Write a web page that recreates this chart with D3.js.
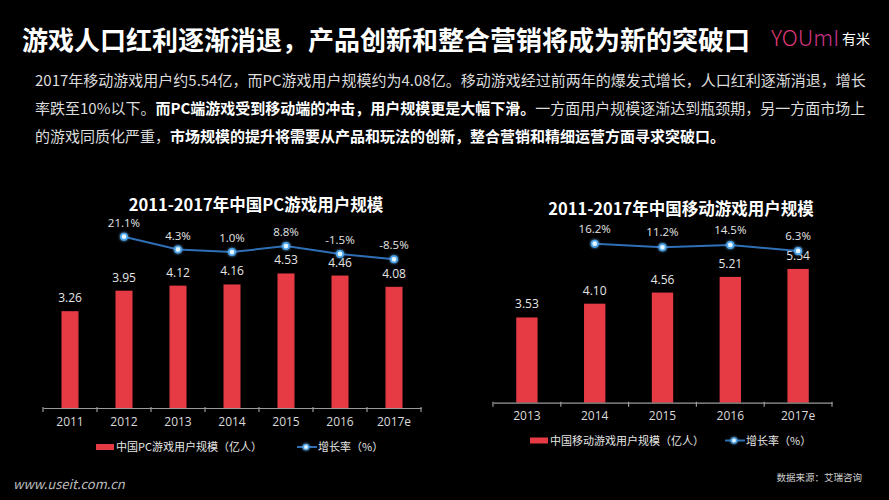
<!DOCTYPE html>
<html>
<head>
<meta charset="utf-8">
<script src="https://cdn.jsdelivr.net/npm/d3@7"></script>
<style>
  html, body { margin: 0; padding: 0; background: #000; }
  svg { display: block; }
  text { font-family: "Noto Sans CJK SC", "Noto Sans", sans-serif; }
  .num { font-family: "Open Sans", "Noto Sans", sans-serif; }
</style>
</head>
<body>
<svg id="chart" width="889" height="500"></svg>
<script>
// PC panel
var pcYears = ["2011", "2012", "2013", "2014", "2015", "2016", "2017e"];
var pcUsers = [3.26, 3.95, 4.12, 4.16, 4.53, 4.46, 4.08];
var pcGrowth = [null, 21.1, 4.3, 1.0, 8.8, -1.5, -8.5];

// mobile panel
var mobileYears = ["2013", "2014", "2015", "2016", "2017e"];
var mobileUsers = [3.53, 4.10, 4.56, 5.21, 5.54];
var mobileGrowth = [null, 16.2, 11.2, 14.5, 6.3];

var title = "游戏人口红利逐渐消退，产品创新和整合营销将成为新的突破口";
var paragraph = [
    [["2017年移动游戏用户约5.54亿，而PC游戏用户规模约为4.08亿。移动游戏经过前两年的爆发式增长，人口红利逐渐消退，增长", false]],
    [["率跌至10%以下。", false], ["而PC端游戏受到移动端的冲击，用户规模更是大幅下滑。", true], ["一方面用户规模逐渐达到瓶颈期，另一方面市场上", false]],
    [["的游戏同质化严重，", false], ["市场规模的提升将需要从产品和玩法的创新，整合营销和精细运营方面寻求突破口。", true]]
];

var barColor = "#e63a44",
    lineColor = "#2f6fb5",
    textColor = "#e6e6e6";

var svg = d3.select("#chart");

svg.append("rect").attr("width", 889).attr("height", 500).attr("fill", "#000");

var defs = svg.append("defs");
var glow = defs.append("filter").attr("id", "glow")
    .attr("x", "-100%").attr("y", "-100%").attr("width", "300%").attr("height", "300%");
glow.append("feGaussianBlur").attr("stdDeviation", 1.6).attr("result", "b");
var merge = glow.append("feMerge");
merge.append("feMergeNode").attr("in", "b");
merge.append("feMergeNode").attr("in", "SourceGraphic");

var logoGrad = defs.append("linearGradient").attr("id", "logoGrad");
logoGrad.append("stop").attr("offset", "0%").attr("stop-color", "#ef3b74");
logoGrad.append("stop").attr("offset", "100%").attr("stop-color", "#c0338f");

// header
svg.append("text")
    .attr("x", 22).attr("y", 50)
    .attr("font-size", 26).attr("font-weight", "bold")
    .attr("fill", "#fff")
    .text(title);

svg.append("text")
    .attr("x", 771).attr("y", 46)
    .attr("font-family", "Lato, sans-serif")
    .attr("font-weight", 300)
    .attr("font-size", 22)
    .attr("fill", "url(#logoGrad)")
    .text("YOUmI");
svg.append("text")
    .attr("x", 842).attr("y", 44)
    .attr("font-size", 14)
    .attr("fill", "#fff")
    .text("有米");

var para = svg.append("g");
paragraph.forEach(function (line, i) {
    var t = para.append("text")
        .attr("x", 35).attr("y", 86 + i * 28)
        .attr("font-size", 15)
        .attr("fill", "#dcdcdc");
    line.forEach(function (seg) {
        t.append("tspan")
            .attr("font-weight", seg[1] ? "bold" : "normal")
            .attr("fill", seg[1] ? "#fff" : "#dcdcdc")
            .text(seg[0]);
    });
});

function drawPanel(cfg) {
    var g = svg.append("g");

    var x = d3.scaleBand()
        .domain(cfg.years)
        .range([cfg.x0, cfg.x1])
        .paddingInner(0.685)
        .paddingOuter(0.3425);

    var y = d3.scaleLinear().domain([0, 6]).range([cfg.base, cfg.base - 6 * cfg.unit]);
    var yg = d3.scaleLinear().domain([-30, 30])
        .range([cfg.zero + 30 * cfg.slope, cfg.zero - 30 * cfg.slope]);

    g.append("text")
        .attr("x", cfg.titleX).attr("y", cfg.titleY)
        .attr("text-anchor", "middle")
        .attr("font-size", 16.5).attr("font-weight", "bold")
        .attr("fill", "#fff")
        .text(cfg.title);

    g.selectAll(".bar")
        .data(cfg.users)
        .enter().append("rect")
        .attr("x", function (d, i) { return x(cfg.years[i]); })
        .attr("y", function (d) { return y(d); })
        .attr("width", x.bandwidth())
        .attr("height", function (d) { return y(0) - y(d); })
        .attr("fill", barColor);

    g.selectAll(".barLabel")
        .data(cfg.users)
        .enter().append("text")
        .attr("class", "num")
        .attr("x", function (d, i) { return x(cfg.years[i]) + x.bandwidth() / 2; })
        .attr("y", function (d) { return y(d) - 9; })
        .attr("text-anchor", "middle")
        .attr("font-size", 12)
        .attr("fill", textColor)
        .text(function (d) { return d.toFixed(2); });

    // axis
    var axis = d3.axisBottom(x).tickSize(0).tickPadding(9);
    var ax = g.append("g")
        .attr("transform", "translate(0," + cfg.base + ")")
        .call(axis);
    ax.select(".domain").attr("stroke", "#9a9a9a").attr("stroke-width", 1.2);
    ax.selectAll("text")
        .attr("class", "num")
        .attr("font-size", 12)
        .attr("fill", "#dadada");

    var bounds = d3.range(cfg.years.length + 1).map(function (i) {
        return x.range()[0] + i * x.step();
    });
    g.selectAll(".tk")
        .data(bounds)
        .enter().append("line")
        .attr("x1", function (d) { return d; })
        .attr("x2", function (d) { return d; })
        .attr("y1", cfg.base - 1)
        .attr("y2", cfg.base + 4)
        .attr("stroke", "#9a9a9a")
        .attr("stroke-width", 1.2);

    // growth line
    var pts = cfg.growth.map(function (v, i) {
        return { year: cfg.years[i], v: v };
    }).filter(function (d) { return d.v !== null; });

    var line = d3.line()
        .x(function (d) { return x(d.year) + x.bandwidth() / 2; })
        .y(function (d) { return yg(d.v); });

    g.append("path")
        .datum(pts)
        .attr("d", line)
        .attr("fill", "none")
        .attr("stroke", lineColor)
        .attr("stroke-width", 2);

    g.selectAll(".dot")
        .data(pts)
        .enter().append("circle")
        .attr("cx", function (d) { return x(d.year) + x.bandwidth() / 2; })
        .attr("cy", function (d) { return yg(d.v); })
        .attr("r", 3.2)
        .attr("fill", "#e4f6ff")
        .attr("stroke", "#4aa3ea")
        .attr("stroke-width", 1.6)
        .attr("filter", "url(#glow)");

    g.selectAll(".gLabel")
        .data(pts)
        .enter().append("text")
        .attr("class", "num")
        .attr("x", function (d) { return x(d.year) + x.bandwidth() / 2; })
        .attr("y", function (d) { return yg(d.v) - cfg.labelGap; })
        .attr("text-anchor", "middle")
        .attr("font-size", 11.5)
        .attr("fill", textColor)
        .text(function (d) { return d.v.toFixed(1) + "%"; });

    // legend
    var lg = g.append("g").attr("transform", "translate(" + cfg.legendX + "," + cfg.legendY + ")");
    lg.append("rect").attr("x", 0).attr("y", -3).attr("width", 18).attr("height", 6).attr("fill", barColor);
    lg.append("text").attr("x", 20).attr("y", 4)
        .attr("font-size", 11).attr("fill", textColor)
        .text(cfg.legendBar);
    lg.append("line").attr("x1", cfg.legendGap).attr("x2", cfg.legendGap + 20)
        .attr("y1", 0).attr("y2", 0)
        .attr("stroke", lineColor).attr("stroke-width", 2);
    lg.append("circle").attr("cx", cfg.legendGap + 9).attr("cy", 0).attr("r", 2.6)
        .attr("fill", "#e4f6ff").attr("stroke", "#4aa3ea").attr("stroke-width", 1.4)
        .attr("filter", "url(#glow)");
    lg.append("text").attr("x", cfg.legendGap + 21).attr("y", 4)
        .attr("font-size", 11).attr("fill", textColor)
        .text("增长率（%）");
}

drawPanel({
    title: "2011-2017年中国PC游戏用户规模",
    titleX: 256, titleY: 211,
    years: pcYears, users: pcUsers, growth: pcGrowth,
    x0: 43, x1: 421, base: 408, unit: 29.7,
    zero: 252.8, slope: 0.764, labelGap: 10,
    legendX: 96, legendY: 447, legendGap: 201,
    legendBar: "中国PC游戏用户规模（亿人）"
});

drawPanel({
    title: "2011-2017年中国移动游戏用户规模",
    titleX: 681, titleY: 215,
    years: mobileYears, users: mobileUsers, growth: mobileGrowth,
    x0: 493, x1: 832, base: 402.7, unit: 24.15,
    zero: 255.6, slope: 0.737, labelGap: 11,
    legendX: 530, legendY: 440.5, legendGap: 195,
    legendBar: "中国移动游戏用户规模（亿人）"
});

// footer
svg.append("text")
    .attr("x", 862).attr("y", 481)
    .attr("text-anchor", "end")
    .attr("font-size", 9.5)
    .attr("fill", "#cfcfcf")
    .text("数据来源：艾瑞咨询");

svg.append("text")
    .attr("x", 13).attr("y", 489)
    .attr("font-family", "'DejaVu Serif', serif")
    .attr("font-style", "italic")
    .attr("font-size", 13)
    .attr("fill", "#bdbdbd")
    .text("www.useit.com.cn");
</script>
</body>
</html>
